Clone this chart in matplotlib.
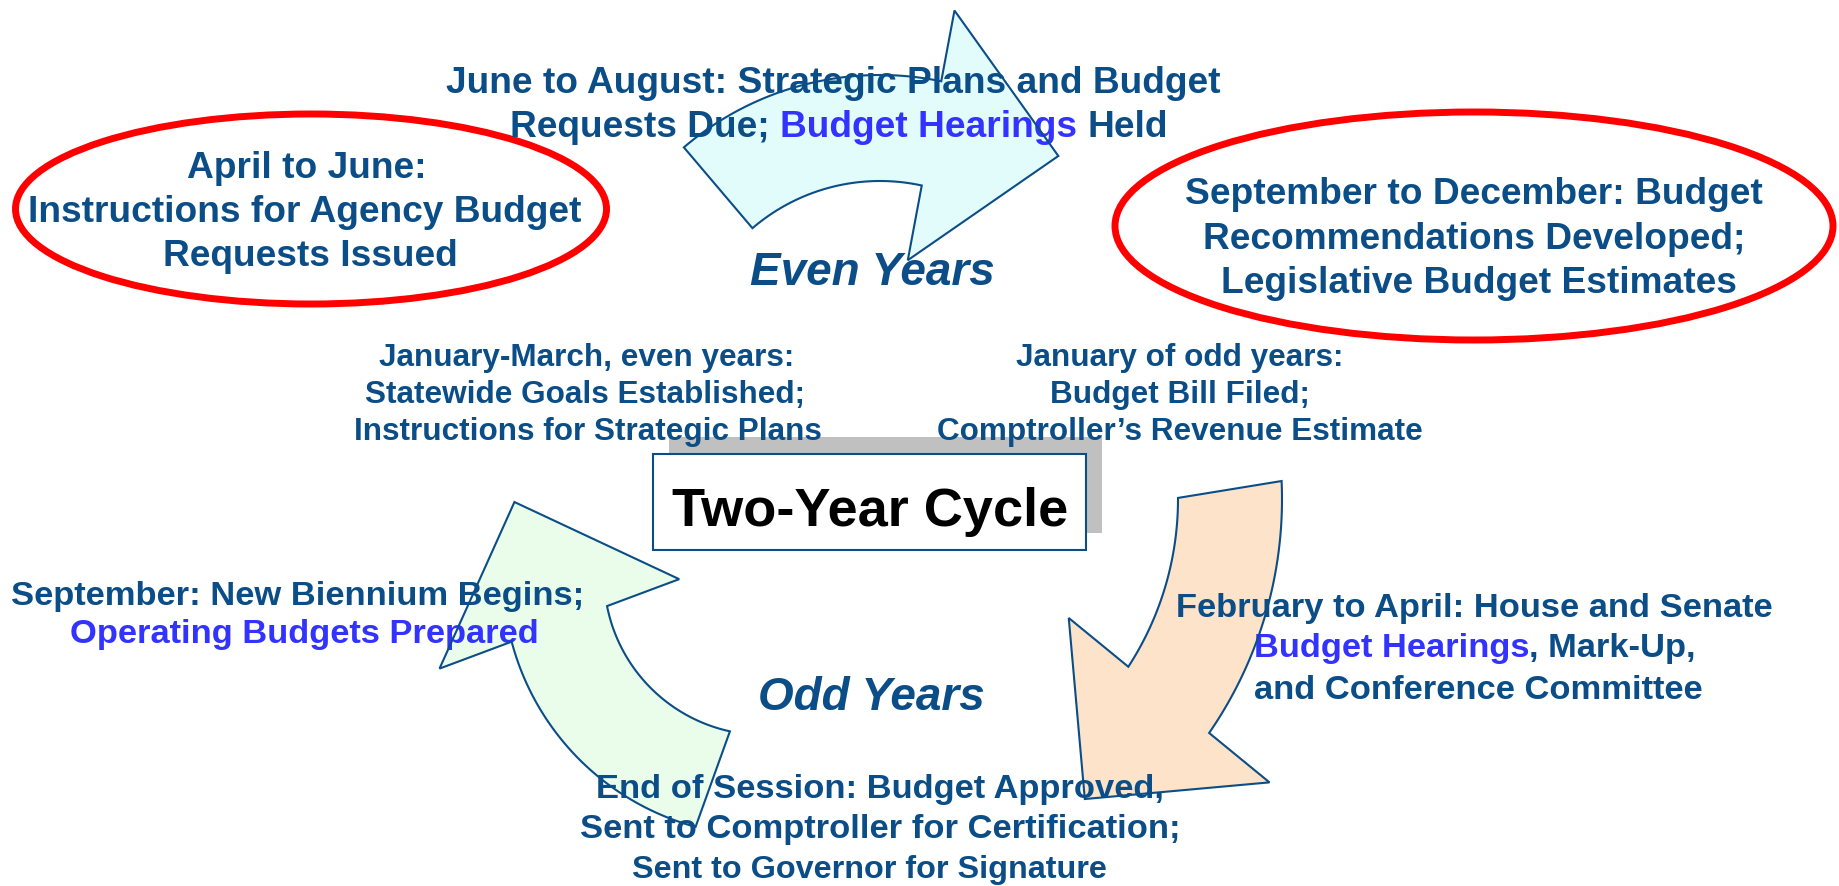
import numpy as np
import matplotlib
matplotlib.use("Agg")
import matplotlib.pyplot as plt
from matplotlib.patches import Polygon, Ellipse, Rectangle

# ---------------- text content ----------------
D, B = "d", "b"   # dark-blue / bright-blue segment keys

top_lines = [[("June to August: Strategic Plans and Budget", D)],
             [("Requests Due; ", D), ("Budget Hearings", B), (" Held", D)]]
left_oval_lines = [[("April to June:", D)],
                   [("Instructions for Agency Budget", D)],
                   [("Requests Issued", D)]]
right_oval_lines = [[("September to December: Budget", D)],
                    [("Recommendations Developed;", D)],
                    [("Legislative Budget Estimates", D)]]
jan_even_lines = [[("January-March, even years:", D)],
                  [("Statewide Goals Established;", D)],
                  [("Instructions for Strategic Plans", D)]]
jan_odd_lines = [[("January of odd years:", D)],
                 [("Budget Bill Filed;", D)],
                 [("Comptroller\u2019s Revenue Estimate", D)]]
sept_lines = [[("September: New Biennium Begins;", D)],
              [("Operating Budgets Prepared", B)]]
feb_lines = [[("February to April: House and Senate", D)],
             [("Budget Hearings", B), (", Mark-Up,", D)],
             [("and Conference Committee", D)]]
end_lines = [[("End of Session: Budget Approved,", D)],
             [("Sent to Comptroller for Certification;", D)],
             [("Sent to Governor for Signature", D)]]
even_label = "Even Years"
odd_label = "Odd Years"
center_title = "Two-Year Cycle"

# ---------------- styles ----------------
W, H = 1839, 887
COL = {D: "#0B4D86", B: "#3333FF"}
EDGE = "#0B4D86"
FONT = "Liberation Sans"

fig = plt.figure(figsize=(W / 100, H / 100), dpi=100)
ax = fig.add_axes([0, 0, 1, 1])
ax.set_xlim(0, W)
ax.set_ylim(H, 0)
ax.axis("off")
renderer = fig.canvas.get_renderer()


def text_width(s, size):
    t = ax.text(0, 0, s, fontsize=size, fontfamily=FONT, fontweight="bold")
    w = t.get_window_extent(renderer).width
    t.remove()
    return w


def advance(s, size):
    return text_width("|" + s + "|", size) - text_width("||", size)


def draw_block(lines, xcs, baselines, sizes, z=5):
    if np.isscalar(sizes):
        sizes = [sizes] * len(lines)
    for segs, xc, yb, size in zip(lines, xcs, baselines, sizes):
        if len(segs) == 1:
            s, c = segs[0]
            ax.text(xc, yb, s, ha="center", va="baseline", fontsize=size,
                    fontfamily=FONT, fontweight="bold", color=COL[c], zorder=z)
            continue
        full = "".join(s for s, _ in segs)
        x0 = xc - advance(full, size) / 2
        prefix = ""
        for s, c in segs:
            lead = len(s) - len(s.lstrip(" "))
            pre = prefix + s[:lead]
            x = x0 + (advance(pre, size) if pre else 0)
            ax.text(x, yb, s.strip(" "), ha="left", va="baseline", fontsize=size,
                    fontfamily=FONT, fontweight="bold", color=COL[c], zorder=z)
            prefix += s


# ---------------- curved arrows ----------------
arrows = [
    dict(c=(880, 378), r_in=196, r_out=302, tail_in=130.6, tail_out=130.5,
         end_in=77.7, end_out=78.3, ext_in=76, ext_out=72, tip=51.1, r_tip=284,
         fc="#E2FCFC"),
    dict(c=(870, 500), r_in=308, r_out=412, tail_in=0.2, tail_out=2.5,
         end_in=-33.0, end_out=-34.6, ext_in=77, ext_out=78, tip=-54.4, r_tip=369,
         fc="#FDE3C9"),
    dict(c=(764, 576), r_in=160, r_out=261, tail_in=-102.3, tail_out=-105.2,
         end_in=-168.8, end_out=-165.2, ext_in=77, ext_out=77, tip=-196.3, r_tip=260,
         fc="#EAFDEA"),
]


def arrow_points(g):
    cx, cy = g["c"]

    def P(r, a):
        a = np.radians(a)
        return np.array([cx + r * np.cos(a), cy - r * np.sin(a)])

    inner = [P(g["r_in"], a) for a in np.linspace(g["tail_in"], g["end_in"], 80)]
    outer = [P(g["r_out"], a) for a in np.linspace(g["end_out"], g["tail_out"], 80)]
    j_in, j_out = inner[-1], outer[0]
    u = (j_in - j_out) / np.linalg.norm(j_in - j_out)
    b_in = j_in + u * g["ext_in"]
    b_out = j_out - u * g["ext_out"]
    tip = P(g["r_tip"], g["tip"])
    return np.array(inner + [b_in, tip, b_out] + outer)


for g in arrows:
    pts = arrow_points(g)
    ax.add_patch(Polygon(pts, closed=True, fc=g["fc"], ec="none", zorder=1))
    ax.add_patch(Polygon(pts, closed=True, fc="none", ec=EDGE, lw=1.5, zorder=8))

# ---------------- red ovals ----------------
ax.add_patch(Ellipse((311, 210), 591, 190, fc="none", ec="#FF0000", lw=5, zorder=3))
ax.add_patch(Ellipse((1474, 227), 718, 228, fc="none", ec="#FF0000", lw=5, zorder=3))

# ---------------- center box ----------------
ax.add_patch(Rectangle((669, 438), 433, 96, fc="#C0C0C0", ec="none", zorder=2))
ax.add_patch(Rectangle((653, 455), 433, 96, fc="white", ec=EDGE, lw=1.5, zorder=3))
ax.text(870, 526, center_title, ha="center", va="baseline", fontsize=39,
        fontfamily=FONT, fontweight="bold", color="black", zorder=6)

# ---------------- text blocks ----------------
draw_block(top_lines, [833, 839], [93, 137], 26.7)
draw_block(left_oval_lines, [307, 305, 310], [178, 222, 266], 26.7)
draw_block(right_oval_lines, [1474, 1474, 1479], [204, 249, 293], 26.7)
draw_block(jan_even_lines, [587, 585, 588], [366, 403, 440], 22.7)
draw_block(jan_odd_lines, [1180, 1180, 1180], [366, 403, 440], 22.7)
draw_block(sept_lines, [298, 304], [605, 643], 24.8)
draw_block(feb_lines, [1474, 1475, 1478], [617, 657, 699], 24.8)
draw_block(end_lines, [880, 880, 869], [798, 838, 878], [24.8, 24.8, 23.3])

ax.text(872, 285, even_label, ha="center", va="baseline", fontsize=33,
        fontfamily=FONT, fontweight="bold", fontstyle="italic", color=COL[D], zorder=5)
ax.text(871, 710, odd_label, ha="center", va="baseline", fontsize=33,
        fontfamily=FONT, fontweight="bold", fontstyle="italic", color=COL[D], zorder=5)

fig.savefig("out.png", dpi=100, facecolor="white")
